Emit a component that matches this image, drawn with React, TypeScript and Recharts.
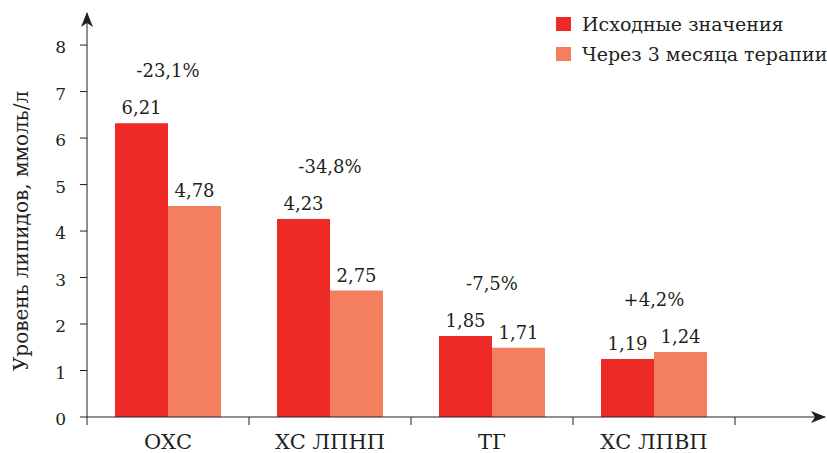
import React from 'react';
import { ComposedChart, Bar, Line, XAxis, YAxis, LabelList, Legend } from 'recharts';

const categories = ['ОХС', 'ХС ЛПНП', 'ТГ', 'ХС ЛПВП'];
const baselineValues = [6.32, 4.26, 1.74, 1.25];
const afterValues = [4.54, 2.72, 1.49, 1.4];
const baselineLabels = ['6,21', '4,23', '1,85', '1,19'];
const afterLabels = ['4,78', '2,75', '1,71', '1,24'];
const changeLabels = ['-23,1%', '-34,8%', '-7,5%', '+4,2%'];
const yTicks = [0, 1, 2, 3, 4, 5, 6, 7, 8];
const seriesNames = ['Исходные значения', 'Через 3 месяца терапии'];
const yTitle = 'Уровень липидов, ммоль/л';

const RED = '#EE2A27';
const ORANGE = '#F37F5F';
const INK = '#231F20';
const FONT = 'DejaVu Serif';

const data = categories.map((c, i) => ({
  cat: c,
  base: baselineValues[i],
  after: afterValues[i],
  baseLabel: baselineLabels[i],
  afterLabel: afterLabels[i],
  top: Math.max(baselineValues[i], afterValues[i]),
  change: changeLabels[i],
}));

const BarValueLabel = (props: any) => {
  const { x, y, width, value } = props;
  return (
    <text x={x + width / 2} y={y - 9} textAnchor="middle" fill={INK} style={{ fontFamily: FONT, fontSize: 18 }}>
      {value}
    </text>
  );
};

const ChangeLabel = (props: any) => {
  const { x, y, value } = props;
  return (
    <text x={x} y={y - 46} textAnchor="middle" fill={INK} style={{ fontFamily: FONT, fontSize: 18 }}>
      {value}
    </text>
  );
};

const CategoryTick = (props: any) => {
  const { x, y, payload, index } = props;
  const half = payload && payload.offset ? payload.offset : 81;
  return (
    <g>
      <line x1={x - half} y1={y} x2={x - half} y2={y + 8} stroke={INK} strokeWidth={1} />
      {index === categories.length - 1 ? (
        <line x1={x + half} y1={y} x2={x + half} y2={y + 8} stroke={INK} strokeWidth={1} />
      ) : null}
      <text x={x} y={y + 32} textAnchor="middle" fill={INK} style={{ fontFamily: FONT, fontSize: 21 }}>
        {payload.value}
      </text>
    </g>
  );
};

const YTitle = (props: any) => {
  const vb = props.viewBox || { x: 0, y: 13, width: 87, height: 404 };
  const cx = vb.x + 28;
  const cy = vb.y + vb.height / 2 + 16;
  return (
    <text
      x={cx}
      y={cy}
      transform={`rotate(-90, ${cx}, ${cy})`}
      textAnchor="middle"
      fill={INK}
      style={{ fontFamily: FONT, fontSize: 20 }}
    >
      {yTitle}
    </text>
  );
};

const LegendContent = () => {
  const colors = [RED, ORANGE];
  return (
    <div style={{ fontFamily: FONT, fontSize: 19, color: INK }}>
      {seriesNames.map((n, i) => (
        <div key={n} style={{ display: 'flex', alignItems: 'center', height: 30, whiteSpace: 'nowrap' }}>
          <div style={{ width: 15, height: 14, background: colors[i], marginRight: 11, flex: 'none' }} />
          <span>{n}</span>
        </div>
      ))}
    </div>
  );
};

export default function App() {
  return (
    <div style={{ position: 'absolute', left: 0, top: 0, width: 827, height: 453, background: '#fff' }}>
      <svg width={0} height={0} style={{ position: 'absolute' }}>
        <defs>
          <marker
            id="arrowHead"
            viewBox="0 0 15 12"
            markerWidth={15}
            markerHeight={12}
            refX={14}
            refY={6}
            markerUnits="userSpaceOnUse"
            orient="auto-start-reverse"
          >
            <path d="M0,0 L15,6 L0,12 L4,6 Z" fill={INK} />
          </marker>
        </defs>
      </svg>
      <ComposedChart
        width={827}
        height={453}
        data={data}
        margin={{ top: 13, right: 2, left: 0, bottom: 0 }}
        barGap={0}
      >
        <XAxis
          dataKey="cat"
          height={36}
          padding={{ left: 0, right: 90 }}
          tickSize={0}
          tickMargin={0}
          interval={0}
          axisLine={{ stroke: INK, strokeWidth: 1, markerEnd: 'url(#arrowHead)' }}
          tick={<CategoryTick />}
        />
        <YAxis
          type="number"
          domain={[0, 8.69]}
          ticks={yTicks}
          width={87}
          tickSize={7}
          tickMargin={14}
          interval={0}
          axisLine={{ stroke: INK, strokeWidth: 1, markerStart: 'url(#arrowHead)' }}
          tickLine={{ stroke: INK, strokeWidth: 1 }}
          tick={{ fill: INK, fontFamily: FONT, fontSize: 17, dy: 2 }}
          label={<YTitle />}
        />
        <Legend
          layout="horizontal"
          verticalAlign="middle"
          align="center"
          content={<LegendContent />}
          wrapperStyle={{ left: 556, top: 9, width: 271, height: 60 }}
        />
        <Bar dataKey="base" name={seriesNames[0]} fill={RED} barSize={53} isAnimationActive={false}>
          <LabelList dataKey="baseLabel" content={<BarValueLabel />} />
        </Bar>
        <Bar dataKey="after" name={seriesNames[1]} fill={ORANGE} barSize={53} isAnimationActive={false}>
          <LabelList dataKey="afterLabel" content={<BarValueLabel />} />
        </Bar>
        <Line
          dataKey="top"
          stroke="none"
          dot={false}
          activeDot={false}
          legendType="none"
          isAnimationActive={false}
        >
          <LabelList dataKey="change" content={<ChangeLabel />} />
        </Line>
      </ComposedChart>
    </div>
  );
}
